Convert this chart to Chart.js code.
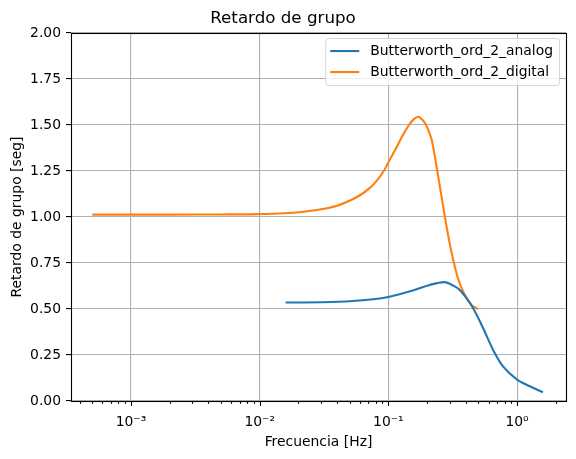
<!DOCTYPE html>
<html>
<head>
<meta charset="utf-8">
<script src="https://cdn.jsdelivr.net/npm/chart.js@4.4.1/dist/chart.umd.min.js"></script>
<style>
  html, body { margin: 0; padding: 0; background: #fff; }
  canvas { display: block; }
</style>
</head>
<body>
<canvas id="delayChart" width="576" height="459"></canvas>
<script>
// Data (frequency in Hz, delay in seconds)
const analogFreq  = [0.0159, 0.03, 0.05, 0.0854, 0.1, 0.155, 0.209, 0.274, 0.32, 0.358, 0.41, 0.455, 0.544, 0.65, 0.778, 1.0, 1.256, 1.59];
const analogDelay = [0.535, 0.537, 0.542, 0.557, 0.565, 0.601, 0.631, 0.646, 0.627, 0.604, 0.554, 0.505, 0.397, 0.279, 0.188, 0.116, 0.080, 0.047];

const digitalFreq  = [0.0005, 0.001, 0.002, 0.005, 0.01, 0.0204, 0.0349, 0.047, 0.0597, 0.0714, 0.0829, 0.0934, 0.1, 0.115, 0.126, 0.134, 0.146, 0.158, 0.170, 0.183, 0.197, 0.216, 0.229, 0.236, 0.258, 0.282, 0.309, 0.347, 0.392, 0.442, 0.5];
const digitalDelay = [1.013, 1.013, 1.013, 1.014, 1.016, 1.026, 1.050, 1.080, 1.117, 1.157, 1.205, 1.257, 1.297, 1.375, 1.43, 1.462, 1.505, 1.532, 1.545, 1.530, 1.498, 1.425, 1.335, 1.28, 1.118, 0.956, 0.811, 0.667, 0.577, 0.522, 0.50];

const seriesLabels = ["Butterworth_ord_2_analog", "Butterworth_ord_2_digital"];
const seriesColors = ["#1f77b4", "#ff7f0e"];

const xDecades = [1e-4, 1e-3, 1e-2, 1e-1, 1];
const xTickLabels = { "0.001": "10\u207B\u00B3", "0.01": "10\u207B\u00B2", "0.1": "10\u207B\u00B9", "1": "10\u2070" };
const yTicks = [0, 0.25, 0.5, 0.75, 1.0, 1.25, 1.5, 1.75, 2.0];

const FONT = "'DejaVu Sans', sans-serif";
const isMajor = v => Object.keys(xTickLabels).some(k => Math.abs(Number(k) - v) / v < 1e-6);

const toPoints = (xs, ys) => xs.map((x, i) => ({ x: x, y: ys[i] }));

// frame, x tick marks and legend, drawn the matplotlib way
const decorations = {
  id: "decorations",
  afterDraw(chart) {
    const ctx = chart.ctx;
    const a = chart.chartArea;
    const xs = chart.scales.x;
    ctx.save();

    // x tick marks (major + minor)
    ctx.strokeStyle = "#000";
    ctx.lineWidth = 1.1;
    xs.ticks.forEach(t => {
      const px = Math.round(xs.getPixelForValue(t.value)) + 0.5;
      if (px < a.left - 0.5 || px > a.right + 0.5) return;
      const len = isMajor(t.value) ? 4.9 : 2.8;
      ctx.beginPath();
      ctx.moveTo(px, a.bottom);
      ctx.lineTo(px, a.bottom + len);
      ctx.stroke();
    });

    // frame
    ctx.strokeRect(Math.round(a.left) + 0.5, Math.round(a.top) + 0.5,
      Math.round(a.right - a.left), Math.round(a.bottom - a.top));

    // legend
    ctx.font = "13.9px " + FONT;
    const textW = Math.max(...seriesLabels.map(s => ctx.measureText(s).width));
    const right = a.right - 7;
    const left = right - (5 + 29 + 11 + textW + 6);
    const top = a.top + 5;
    const rowH = 21;
    const bottom = top + 47;
    ctx.beginPath();
    ctx.roundRect(left + 0.5, top + 0.5, right - left, bottom - top, 3);
    ctx.fillStyle = "rgba(255,255,255,0.8)";
    ctx.fill();
    ctx.strokeStyle = "rgba(204,204,204,0.8)";
    ctx.lineWidth = 1;
    ctx.stroke();

    seriesLabels.forEach((label, i) => {
      const y = top + 13 + rowH * i;
      ctx.strokeStyle = seriesColors[i];
      ctx.lineWidth = 2.1;
      ctx.beginPath();
      ctx.moveTo(left + 5, y);
      ctx.lineTo(left + 34, y);
      ctx.stroke();
      ctx.fillStyle = "#000";
      ctx.textBaseline = "middle";
      ctx.textAlign = "left";
      ctx.fillText(label, left + 45, y);
    });
    ctx.restore();
  }
};

new Chart(document.getElementById("delayChart"), {
  type: "line",
  data: {
    datasets: [
      {
        label: seriesLabels[0],
        data: toPoints(analogFreq, analogDelay),
        borderColor: seriesColors[0],
        borderWidth: 2.1,
        pointRadius: 0,
        tension: 0.3,
        fill: false
      },
      {
        label: seriesLabels[1],
        data: toPoints(digitalFreq, digitalDelay),
        borderColor: seriesColors[1],
        borderWidth: 2.1,
        pointRadius: 0,
        tension: 0.3,
        fill: false
      }
    ]
  },
  options: {
    responsive: false,
    animation: false,
    devicePixelRatio: 1,
    layout: { padding: { left: 0, right: 10, top: 0, bottom: 0 } },
    plugins: {
      legend: { display: false },
      tooltip: { enabled: false },
      title: {
        display: true,
        text: "Retardo de grupo",
        color: "#000",
        font: { family: FONT, size: 16.7, weight: "normal" },
        padding: { top: 9, bottom: 4 }
      }
    },
    scales: {
      x: {
        type: "logarithmic",
        bounds: "data",
        min: 3.42e-4,
        max: 2.40,
        afterBuildTicks: scale => {
          const ticks = [];
          xDecades.forEach(d => {
            for (let m = 1; m <= 9; m++) ticks.push({ value: d * m });
          });
          scale.ticks = ticks.filter(t => t.value >= 3.42e-4 && t.value <= 2.40);
        },
        afterFit: scale => { scale.height = 58; },
        grid: {
          drawTicks: false,
          color: ctx => (ctx.tick && isMajor(ctx.tick.value)) ? "#b0b0b0" : "rgba(0,0,0,0)",
          lineWidth: 1.1
        },
        border: { display: false },
        ticks: {
          autoSkip: false,
          maxRotation: 0,
          padding: 13,
          color: "#000",
          font: { family: FONT, size: 13.9 },
          callback: function (value) {
            for (const k in xTickLabels) {
              if (Math.abs(Number(k) - value) / value < 1e-6) return xTickLabels[k];
            }
            return "";
          }
        },
        title: {
          display: true,
          text: "Frecuencia [Hz]",
          color: "#000",
          font: { family: FONT, size: 13.9 },
          padding: { top: 0, bottom: 8 }
        }
      },
      y: {
        min: 0,
        max: 2,
        afterBuildTicks: scale => { scale.ticks = yTicks.map(v => ({ value: v })); },
        afterFit: scale => { scale.width = 71; },
        grid: {
          color: "#b0b0b0",
          lineWidth: 1.1,
          tickColor: "#000",
          tickLength: 5
        },
        border: { display: false },
        ticks: {
          padding: 5,
          color: "#000",
          font: { family: FONT, size: 13.9 },
          callback: v => Number(v).toFixed(2)
        },
        title: {
          display: true,
          text: "Retardo de grupo [seg]",
          color: "#000",
          font: { family: FONT, size: 13.9 },
          padding: { top: 9, bottom: 0 }
        }
      }
    }
  },
  plugins: [decorations]
});
</script>
</body>
</html>
